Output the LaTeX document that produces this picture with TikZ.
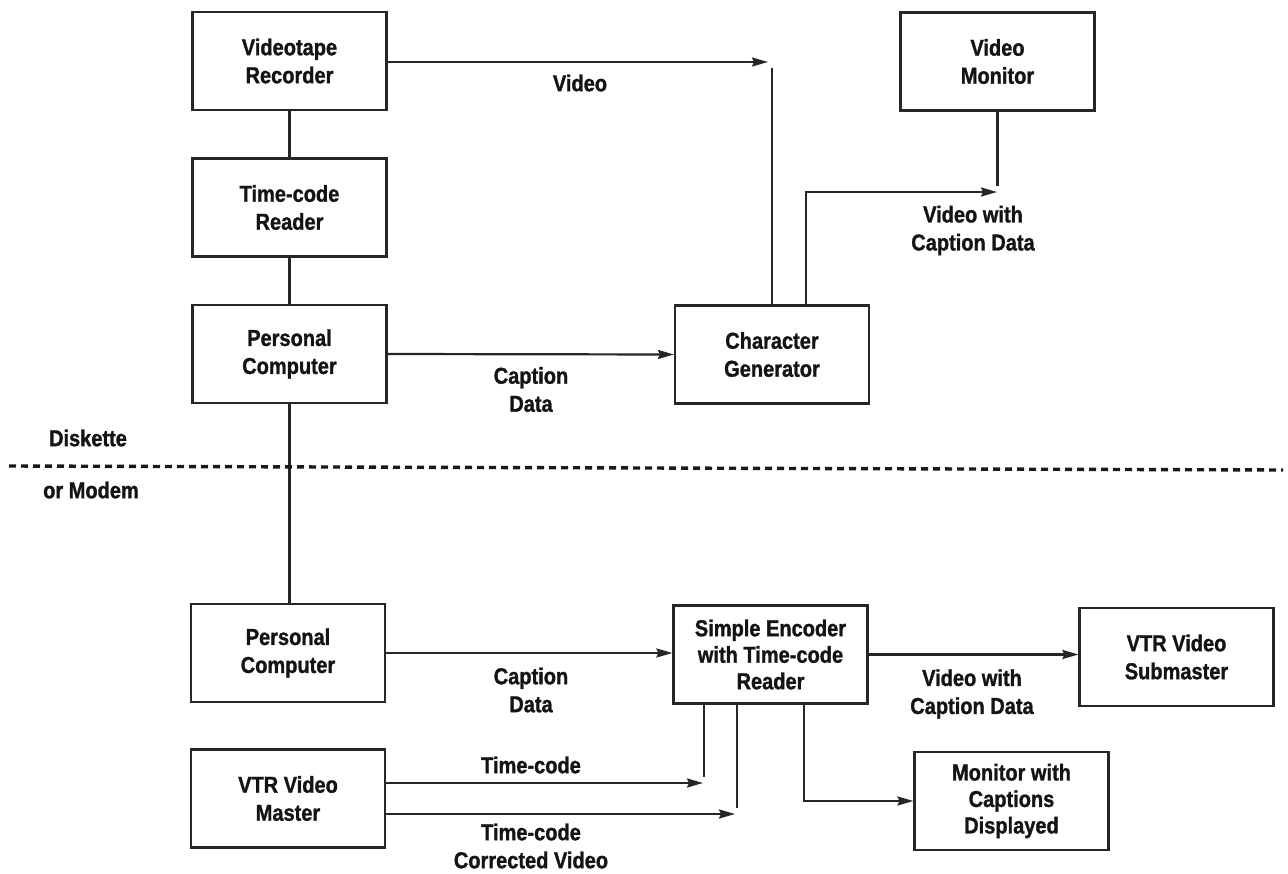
\documentclass[tikz,border=0pt]{standalone}
\usepackage{fontspec}
\setmainfont{Liberation Sans}[FakeStretch=0.87, FakeBold=1.2]
\usetikzlibrary{arrows.meta}
\begin{document}
\begin{tikzpicture}[x=1pt,y=-1pt,
  every node/.style={font=\bfseries\fontsize{23}{28}\selectfont, text=black!92},
  box/.style={draw=black!85, line width=2.2pt, minimum width=194pt, minimum height=98pt,
              align=center, inner sep=0pt},
  tribox/.style={box, font=\bfseries\fontsize{23}{26.5}\selectfont},
  wire/.style={draw=black!85, line width=2.2pt},
  feed/.style={wire, -{Stealth[length=16pt,width=9pt,inset=2pt]}},
  lbl/.style={align=center, inner sep=0pt}
]
\useasboundingbox (0,0) rectangle (1288,874);

% upper station: caption preparation
\node[box] (vtr)  at (289.5,61)   {Videotape\\Recorder};
\node[box] (tcr)  at (289.5,207.5) {Time-code\\Reader};
\node[box] (pca)  at (289.5,354)  {Personal\\Computer};
\node[box] (chg)  at (772,354.5)  {Character\\Generator};
\node[box] (vmon) at (997.5,61.5) {Video\\Monitor};

% lower station: encoding
\node[box]    (pcb) at (288,653)    {Personal\\Computer};
\node[tribox] (enc) at (770.5,654.5) {Simple Encoder\\with Time-code\\Reader};
\node[box]    (sub) at (1176.5,657) {VTR Video\\Submaster};
\node[box]    (mst) at (288,798.5)  {VTR Video\\Master};
\node[tribox] (mon) at (1011.5,801) {Monitor with\\Captions\\Displayed};

% vertical chain on the left
\draw[wire] (vtr) -- (tcr);
\draw[wire] (tcr) -- (pca);
\draw[wire] (pca.south) -- (pca.south |- pcb.north);

% video feed to the character generator
\coordinate (vtip)  at (768,62);
\coordinate (vdrop) at (772,68);
\draw[feed] (vtr.east |- vtip) -- (vtip);
\draw[wire] (vdrop) -- (vdrop |- chg.north);

% character generator output to the monitor
\coordinate (mtip)  at (997,192);
\coordinate (mdrop) at (997.5,186);
\draw[feed] ([xshift=34pt]chg.north) |- (mtip);
\draw[wire] (vmon.south) -- (vmon.south |- mdrop);

% caption data
\draw[feed] (pca.east) -- (chg.west);
\draw[feed] (pcb.east) -- (pcb.east -| enc.west);
\draw[feed] (enc.east) -- (enc.east -| sub.west);

% time-code paths from the master
\coordinate (ttip)  at (703,783);
\coordinate (tdrop) at (704,777);
\coordinate (ctip)  at (735,814);
\coordinate (cdrop) at (737,808);
\draw[feed] (mst.east |- ttip) -- (ttip);
\draw[wire] (tdrop |- enc.south) -- (tdrop);
\draw[feed] (mst.east |- ctip) -- (ctip);
\draw[wire] (cdrop |- enc.south) -- (cdrop);

% encoder output to the caption monitor
\coordinate (mbend) at (804,801);
\draw[feed] (mbend |- enc.south) |- (mon.west);

% diskette / modem divide
\coordinate (dl) at (9,466);
\coordinate (dr) at (1283,470);
\draw[black!90, line width=3.4pt, dash pattern=on 7pt off 5pt] (dl) -- (dr);

% labels
\node[lbl] (lvid)   at (580,83)    {Video};
\node[lbl] (lcap1)  at (531,389.5) {Caption\\Data};
\node[lbl] (lvwc1)  at (973,230.5) {Video with\\Caption Data};
\node[lbl] (ldisk)  at (88,438)    {Diskette};
\node[lbl] (lmodem) at (91,490)    {or Modem};
\node[lbl] (lcap2)  at (531,690)   {Caption\\Data};
\node[lbl] (lvwc2)  at (972,694)   {Video with\\Caption Data};
\node[lbl] (ltc)    at (531,765)   {Time-code};
\node[lbl] (ltcv)   at (531,846)   {Time-code\\Corrected Video};
\end{tikzpicture}
\end{document}
